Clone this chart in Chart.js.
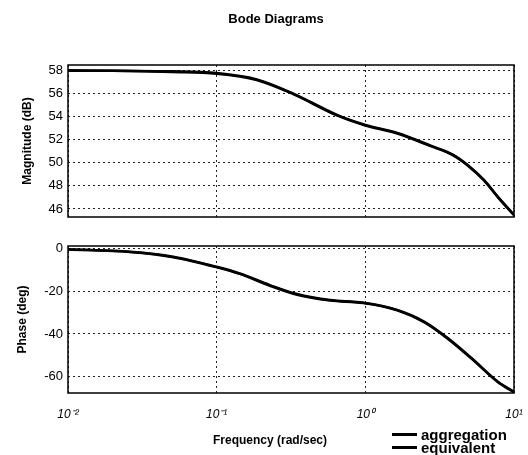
<!DOCTYPE html>
<html>
<head>
<meta charset="utf-8">
<script src="https://cdn.jsdelivr.net/npm/chart.js@4.4.1/dist/chart.umd.min.js"></script>
<style>
  body { margin: 0; background: #fff; }
  #wrap { position: relative; width: 528px; height: 455px; overflow: hidden; font-family: "Liberation Sans", Arial, sans-serif; color: #000; }
  #wrap canvas { position: absolute; left: 0; top: 0; }
  .label { position: absolute; font-weight: bold; white-space: nowrap; transform: translate(-50%, -50%); }
  #title { left: 276px; top: 18px; font-size: 13px; }
  #xlabel { left: 270px; top: 440px; font-size: 12px; }
  #legend { position: absolute; left: 392px; top: 428px; font-size: 15px; font-weight: bold; line-height: 13px; }
  #legend .row { display: flex; align-items: center; white-space: nowrap; }
  #legend .swatch { width: 25px; height: 3px; background: #000; margin-right: 4px; }
</style>
</head>
<body>
<div id="wrap">
  <canvas id="mag" width="528" height="455"></canvas>
  <canvas id="phase" width="528" height="455"></canvas>
  <div id="title" class="label">Bode Diagrams</div>
  <div id="xlabel" class="label">Frequency (rad/sec)</div>
  <div id="legend"></div>
</div>
<script>
// series names
const seriesNames = ['aggregation', 'equivalent'];

// magnitude response (dB) vs frequency (rad/sec)
const magFreq = [0.01, 0.02, 0.05, 0.1, 0.186, 0.33, 0.65, 1.0, 1.64, 2.75, 3.9, 4.9, 6.3, 7.8, 10];
const magAgg  = [58.05, 58.0, 57.95, 57.8, 57.25, 56.0, 54.15, 53.3, 52.6, 51.5, 50.7, 49.8, 48.5, 47.05, 45.5];
const magEqv  = [58.0, 58.0, 57.9, 57.75, 57.2, 55.95, 54.1, 53.25, 52.55, 51.45, 50.65, 49.75, 48.45, 47.0, 45.45];

// phase response (deg) vs frequency (rad/sec)
const phaseFreq = [0.01, 0.026, 0.051, 0.1, 0.143, 0.228, 0.347, 0.58, 0.97, 1.64, 2.5, 3.6, 5.2, 7.8, 10];
const phaseAgg  = [-0.5, -1.7, -4.0, -8.7, -11.8, -17.2, -21.4, -24.2, -25.4, -28.8, -34.3, -42.0, -51.3, -62.2, -66.9];
const phaseEqv  = [-0.6, -1.8, -4.2, -8.9, -12.0, -17.5, -21.7, -24.4, -25.6, -29.0, -34.6, -42.3, -51.6, -62.5, -67.2];

// tick values and labels
const decadeTicks  = [0.01, 0.1, 1, 10];
const decadeLabels = ['10\u207B\u00B2', '10\u207B\u00B9', '10\u2070', '10\u00B9'];
const magTicks   = [46, 48, 50, 52, 54, 56, 58];
const phaseTicks = [-60, -40, -20, 0];

Chart.defaults.font.family = '"Liberation Sans", Arial, sans-serif';
Chart.defaults.color = '#000';

const toPoints = (xs, ys) => xs.map((x, i) => ({ x, y: ys[i] }));

// solid box around the plotting area
const frame = {
  id: 'frame',
  afterDraw(chart) {
    const { ctx, chartArea: a } = chart;
    ctx.save();
    ctx.strokeStyle = '#000';
    ctx.lineWidth = 1.5;
    ctx.strokeRect(a.left, a.top, a.right - a.left, a.bottom - a.top);
    ctx.restore();
  }
};

const dotted = { display: false, dash: [2, 3] };
const gridStyle = { color: '#222', lineWidth: 1, drawTicks: false };

function lineSet(label, data) {
  return {
    label, data,
    borderColor: '#000', borderWidth: 2.5,
    pointRadius: 0, cubicInterpolationMode: 'monotone'
  };
}

function freqAxis(height, withLabels) {
  return {
    type: 'logarithmic', min: 0.01, max: 10,
    afterBuildTicks: s => { s.ticks = decadeTicks.map(v => ({ value: v })); },
    afterFit: s => {
      // keep both plots the same width: labels may hang past the edges
      s.height = height;
      s.paddingLeft = 0;
      s.paddingRight = 0;
    },
    grid: gridStyle, border: dotted,
    ticks: {
      display: withLabels, autoSkip: false, maxRotation: 0, padding: 14,
      font: { size: 12, style: 'italic' },
      callback: (v, i) => decadeLabels[i]
    }
  };
}

function valueAxis(min, max, ticks, title, titlePad) {
  return {
    min, max,
    afterBuildTicks: s => { s.ticks = ticks.map(v => ({ value: v })); },
    afterFit: s => { s.width = 68; },
    grid: gridStyle, border: dotted,
    ticks: { padding: 5, font: { size: 13 } },
    title: { display: true, text: title, font: { size: 12, weight: 'bold' }, padding: { top: titlePad, bottom: 0 } }
  };
}

new Chart(document.getElementById('mag'), {
  type: 'line',
  data: { datasets: [lineSet(seriesNames[0], toPoints(magFreq, magAgg)), lineSet(seriesNames[1], toPoints(magFreq, magEqv))] },
  options: {
    responsive: false, animation: false,
    layout: { padding: { left: 0, right: 14, top: 65, bottom: 238 } },
    plugins: { legend: { display: false }, tooltip: { enabled: false } },
    scales: {
      x: freqAxis(0, false),
      y: valueAxis(45.3, 58.5, magTicks, 'Magnitude (dB)', 20)
    }
  },
  plugins: [frame]
});

new Chart(document.getElementById('phase'), {
  type: 'line',
  data: { datasets: [lineSet(seriesNames[0], toPoints(phaseFreq, phaseAgg)), lineSet(seriesNames[1], toPoints(phaseFreq, phaseEqv))] },
  options: {
    responsive: false, animation: false,
    layout: { padding: { left: 0, right: 14, top: 246, bottom: 8 } },
    plugins: { legend: { display: false }, tooltip: { enabled: false } },
    scales: {
      x: freqAxis(54, true),
      y: valueAxis(-67.5, 1, phaseTicks, 'Phase (deg)', 15)
    }
  },
  plugins: [frame]
});

// legend in the lower right corner
document.getElementById('legend').innerHTML = seriesNames
  .map(n => '<div class="row"><span class="swatch"></span>' + n + '</div>').join('');
</script>
</body>
</html>
